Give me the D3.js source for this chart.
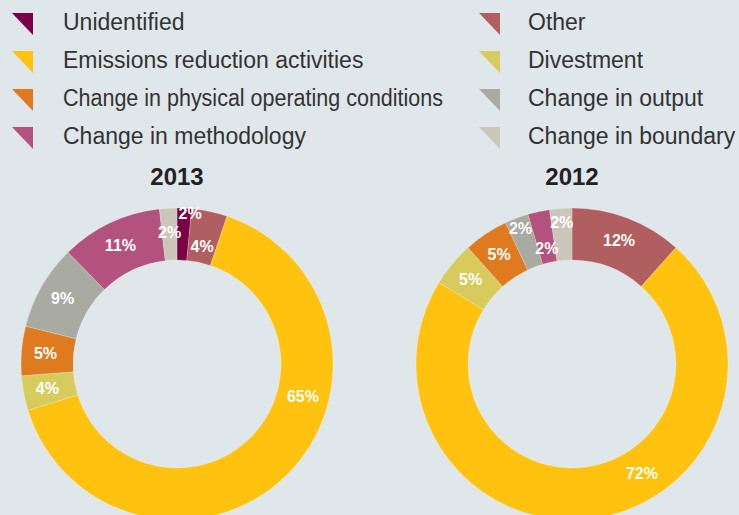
<!DOCTYPE html>
<html>
<head>
<meta charset="utf-8">
<script src="https://cdn.jsdelivr.net/npm/d3@7"></script>
<style>
  html, body { margin: 0; padding: 0; background: #dfe7ea; }
  svg { display: block; }
</style>
</head>
<body>
<svg id="chart" width="739" height="515"></svg>
<script>
// ---- data ----
const categories = [
  "Unidentified",
  "Other",
  "Emissions reduction activities",
  "Divestment",
  "Change in physical operating conditions",
  "Change in output",
  "Change in methodology",
  "Change in boundary"
];
const values2013 = [1.5, 3.7, 65.0, 3.6, 5.1, 8.8, 10.5, 1.8];
const labels2013 = ["2%", "4%", "65%", "4%", "5%", "9%", "11%", "2%"];
const values2012 = [0, 11.6, 72.1, 4.65, 4.6, 2.45, 2.25, 2.3];
const labels2012 = ["", "12%", "72%", "5%", "5%", "2%", "2%", "2%"];
const years = ["2013", "2012"];
const legendLeft = ["Unidentified", "Emissions reduction activities", "Change in physical operating conditions", "Change in methodology"];
const legendRight = ["Other", "Divestment", "Change in output", "Change in boundary"];

// ---- styles / layout ----
const colors = {
  "Unidentified": "#7b0046",
  "Other": "#b05e60",
  "Emissions reduction activities": "#ffc20f",
  "Divestment": "#d8cb5d",
  "Change in physical operating conditions": "#e07a1f",
  "Change in output": "#a9aba3",
  "Change in methodology": "#b3527f",
  "Change in boundary": "#cac7ba"
};
// condensed legend entries (target text width in px)
const legendFit = { "Change in physical operating conditions": 380 };
// label placement tweaks (angle in degrees clockwise from top, radius in px); others use centroid
const labelTweaks = {
  "2013": { "Unidentified": {a: 5, r: 151}, "Other": {r: 120}, "Emissions reduction activities": {a: 104.3, r: 130} },
  "2012": { "Emissions reduction activities": {a: 147.3, r: 129.5}, "Change in output": {r: 145}, "Change in methodology": {r: 118}, "Change in boundary": {r: 142} }
};

const svg = d3.select("#chart");
const color = d3.scaleOrdinal().domain(categories).range(categories.map(c => colors[c]));

// legend
const leg = svg.append("g");
function drawLegend(items, xMarker, xText) {
  items.forEach((name, i) => {
    const y0 = 13 + i * 38;
    leg.append("path")
      .attr("d", `M${xMarker},${y0} L${xMarker + 21},${y0} L${xMarker + 21},${y0 + 22} Z`)
      .attr("fill", color(name));
    const t = leg.append("text")
      .attr("x", xText).attr("y", 30 + i * 38)
      .attr("font-family", "Liberation Sans, Arial, sans-serif")
      .attr("font-size", 23)
      .attr("fill", "#333")
      .text(name);
    if (legendFit[name]) t.attr("textLength", legendFit[name]).attr("lengthAdjust", "spacingAndGlyphs");
  });
}
drawLegend(legendLeft, 12, 63);
drawLegend(legendRight, 479, 528);

// donuts
const outerR = 156, innerR = 104;
const pie = d3.pie().sort(null).value(d => d.value).startAngle(0).endAngle(2 * Math.PI);
const arc = d3.arc().innerRadius(innerR).outerRadius(outerR);
const centers = { "2013": [177, 364], "2012": [572, 364] };
const datasets = {
  "2013": categories.map((c, i) => ({ name: c, value: values2013[i], label: labels2013[i] })),
  "2012": categories.map((c, i) => ({ name: c, value: values2012[i], label: labels2012[i] }))
};

years.forEach(yr => {
  const [cx, cy] = centers[yr];
  svg.append("text")
    .attr("x", cx).attr("y", 185)
    .attr("text-anchor", "middle")
    .attr("font-family", "Liberation Sans, Arial, sans-serif")
    .attr("font-weight", "bold")
    .attr("font-size", 24)
    .attr("fill", "#222")
    .text(yr);

  const g = svg.append("g").attr("transform", `translate(${cx},${cy})`);
  const arcs = pie(datasets[yr]).filter(d => d.data.value > 0);
  g.selectAll("path.slice").data(arcs).join("path")
    .attr("class", "slice")
    .attr("d", arc)
    .attr("fill", d => color(d.data.name))
    .attr("stroke", "rgba(255,255,255,0.35)")
    .attr("stroke-width", 0.6);

  g.selectAll("text.lbl").data(arcs.filter(d => d.data.label)).join("text")
    .attr("class", "lbl")
    .attr("transform", d => {
      const t = (labelTweaks[yr] || {})[d.data.name] || {};
      const a = t.a !== undefined ? t.a * Math.PI / 180 : (d.startAngle + d.endAngle) / 2;
      const r = t.r !== undefined ? t.r : 132;
      return `translate(${r * Math.sin(a)},${-r * Math.cos(a)})`;
    })
    .attr("text-anchor", "middle")
    .attr("dy", "0.36em")
    .attr("font-family", "Liberation Sans, Arial, sans-serif")
    .attr("font-weight", "bold")
    .attr("font-size", 16)
    .attr("fill", "#ffffff")
    .text(d => d.data.label);
});
</script>
</body>
</html>
